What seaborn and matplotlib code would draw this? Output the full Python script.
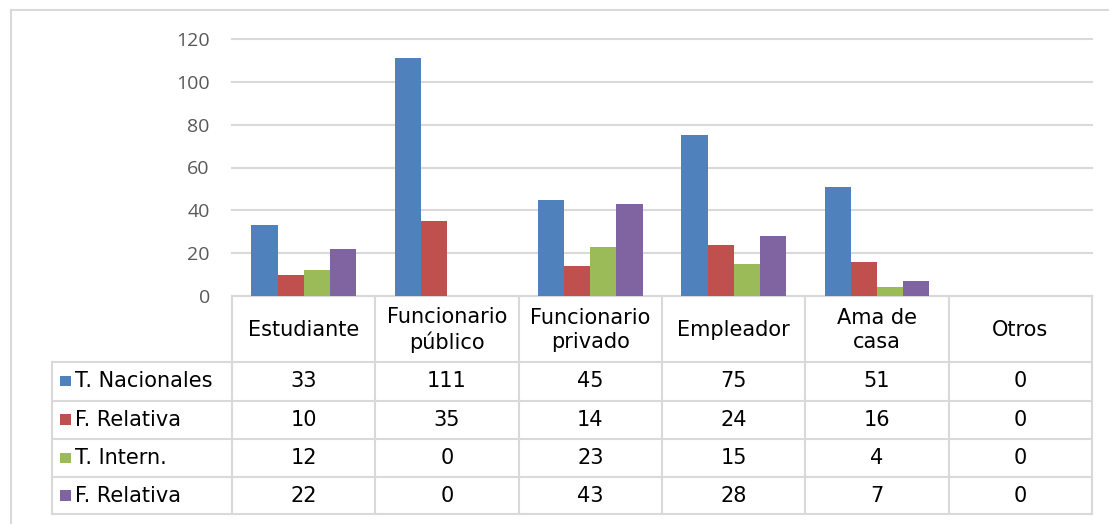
import matplotlib
matplotlib.use("Agg")
import matplotlib.pyplot as plt
import pandas as pd
import seaborn as sns

categories = ["Estudiante", "Funcionario\npúblico", "Funcionario\nprivado",
              "Empleador", "Ama de\ncasa", "Otros"]
series_names = ["T. Nacionales", "F. Relativa", "T. Intern.", "F. Relativa "]
t_nacionales = [33, 111, 45, 75, 51, 0]
f_relativa_1 = [10, 35, 14, 24, 16, 0]
t_intern = [12, 0, 23, 15, 4, 0]
f_relativa_2 = [22, 0, 43, 28, 7, 0]
y_ticks = [0, 20, 40, 60, 80, 100, 120]

colors = ["#4F81BD", "#C0504D", "#9BBB59", "#8064A2"]
all_series = [t_nacionales, f_relativa_1, t_intern, f_relativa_2]

rows = []
for name, vals in zip(series_names, all_series):
    for cat, v in zip(categories, vals):
        rows.append({"cat": cat, "serie": name, "valor": v})
df = pd.DataFrame(rows)

W, H = 1109, 524
fig = plt.figure(figsize=(W / 100, H / 100), dpi=100)

# layout in pixels
x0, x1 = 232, 1092
y_top, y_zero = 39, 296
label_x = 52
row_lines = [362, 400.5, 439, 477, 514]

ax = fig.add_axes([x0 / W, 1 - y_zero / H, (x1 - x0) / W, (y_zero - y_top) / H])
sns.barplot(data=df, x="cat", y="valor", hue="serie", palette=colors,
            width=0.73, saturation=1, legend=False, ax=ax, linewidth=0)
ax.set_ylim(0, 120)
ax.set_xlim(-0.5, len(categories) - 0.5)
ax.set_yticks(y_ticks)
ax.set_yticklabels([str(t) for t in y_ticks], fontsize=14, color="#595959",
                   family="Open Sans")
ax.tick_params(axis="y", length=0, pad=16)
ax.set_xticks([])
ax.set_xlabel("")
ax.set_ylabel("")
ax.yaxis.grid(True, color="#d9d9d9", linewidth=1.5)
for gl in ax.get_ygridlines():
    gl.set_clip_on(False)
ax.set_axisbelow(True)
for s in ["top", "right", "left", "bottom"]:
    ax.spines[s].set_visible(False)
ax.patch.set_alpha(0)

# overlay in pixel coords for the data table and frame
ov = fig.add_axes([0, 0, 1, 1], zorder=-1)
ov.set_xlim(0, W)
ov.set_ylim(H, 0)
ov.axis("off")
grey = "#d9d9d9"

# outer chart frame
ov.plot([11, W], [10, 10], color=grey, lw=1.5)
ov.plot([11, 11], [10, H], color=grey, lw=1.5)

ncat = len(categories)
cw = (x1 - x0) / ncat
ov.plot([x0, x1], [y_zero, y_zero], color=grey, lw=1.5)
for y in row_lines:
    ov.plot([label_x, x1], [y, y], color=grey, lw=1.5)
for k in range(ncat + 1):
    ov.plot([x0 + k * cw] * 2, [y_zero, row_lines[-1]], color=grey, lw=1.5)
ov.plot([label_x, label_x], [row_lines[0], row_lines[-1]], color=grey, lw=1.5)

tfont = dict(fontsize=15, color="black", family="DejaVu Sans")
for k, cat in enumerate(categories):
    ov.text(x0 + (k + 0.5) * cw, (y_zero + row_lines[0]) / 2 + 1, cat,
            ha="center", va="center", linespacing=1.25, **tfont)

for i, (name, vals) in enumerate(zip(series_names, all_series)):
    yc = (row_lines[i] + row_lines[i + 1]) / 2
    ov.add_patch(plt.Rectangle((60, yc - 5.5), 10.5, 10.5, color=colors[i], lw=0))
    ov.text(75, yc, name.strip(), ha="left", va="center", **tfont)
    for k, v in enumerate(vals):
        ov.text(x0 + (k + 0.5) * cw, yc, str(v), ha="center", va="center", **tfont)

fig.savefig("out.png", dpi=100)
